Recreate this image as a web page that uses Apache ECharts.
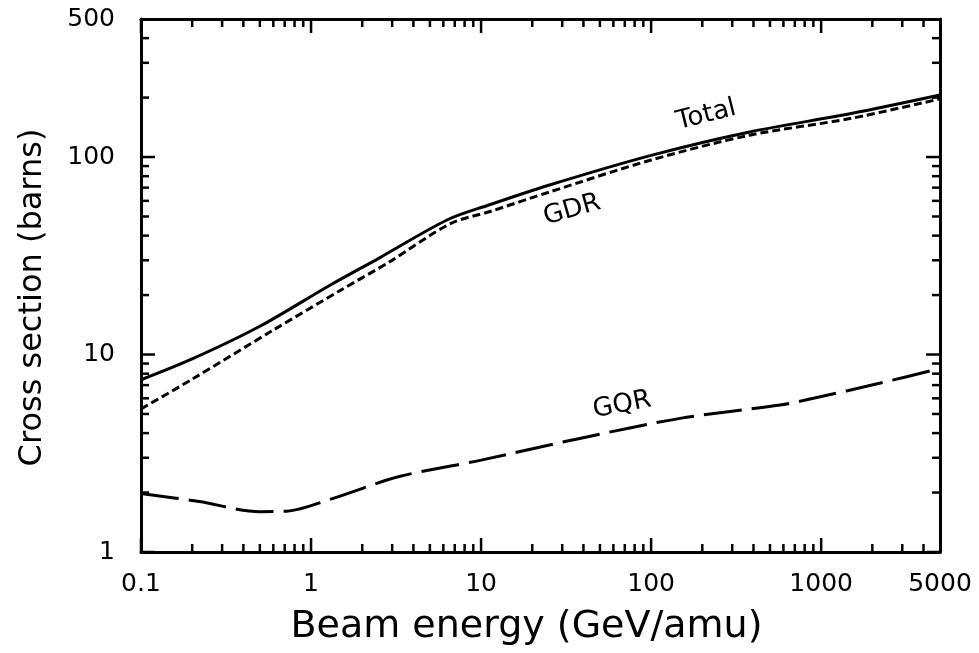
<!DOCTYPE html>
<html>
<head>
<meta charset="utf-8">
<script src="https://cdn.jsdelivr.net/npm/echarts@6/dist/echarts.min.js"></script>
<style>
  html, body { margin: 0; padding: 0; background: #fff; }
  #chart { width: 979px; height: 653px; }
</style>
</head>
<body>
<div id="chart"></div>
<script>
// tick values
const xLabels = [0.1, 1, 10, 100, 1000, 5000]
const xMajor = [0.1, 1, 10, 100, 1000]
const xMinor = [0.2, 0.3, 0.4, 0.5, 0.6, 0.7, 0.8, 0.9, 2, 3, 4, 5, 6, 7, 8, 9,
  20, 30, 40, 50, 60, 70, 80, 90, 200, 300, 400, 500, 600, 700, 800, 900, 2000, 3000, 4000]
const yLabels = [1, 10, 100, 500]
const yMajor = [1, 10, 100]
const yMinor = [2, 3, 4, 5, 6, 7, 8, 9, 20, 30, 40, 50, 60, 70, 80, 90, 200, 300, 400]

// curves (energy in GeV/amu, cross section in barns)
const totalEnergy = [0.1, 0.2, 0.5, 1.3, 2.5, 6.3, 11, 25, 100, 380, 1500, 5000]
const totalValues = [7.45, 9.5, 13.9, 22.5, 30.7, 48, 57, 72, 102, 134, 166, 206]
const gdrEnergy = [0.1, 0.2, 0.6, 1.5, 2.9, 6.6, 11.3, 25.5, 100, 380, 1500, 5000]
const gdrValues = [5.3, 7.5, 13.3, 21.2, 29.5, 46, 53, 66.7, 96.6, 129, 157, 197]
const gqrEnergy = [0.1, 0.22, 0.5, 0.72, 1.35, 3.3, 10, 38, 148, 574, 900, 2200, 5000]
const gqrValues = [1.98, 1.8, 1.6, 1.61, 1.87, 2.41, 2.92, 3.76, 4.75, 5.55, 6.0, 7.15, 8.5]

// curve captions: [text, energy, cross section, angle in degrees]
const captions = [
  ['Total', 211, 163, 14],
  ['GDR', 34.3, 53.9, 16],
  ['GQR', 67.5, 5.55, 11]
]

const pairs = (xs, ys) => xs.map((x, i) => [x, ys[i]])
const font = 'DejaVu Sans'
const X0 = 0.1, X1 = 5000, Y0 = 1, Y1 = 500

function axisBase() {
	return {
		type: 'log', logBase: 10,
		axisLine: { show: true, onZero: false, lineStyle: { color: '#000', width: 3 } },
		axisTick: { show: false },
		minorTick: { show: false },
		splitLine: { show: false }
	}
}

const chart = echarts.init(document.getElementById('chart'))
chart.setOption({
	animation: false,
	backgroundColor: '#fff',
	grid: { left: 141, right: 39, top: 19, bottom: 101, containLabel: false, outerBoundsMode: 'none' },
	xAxis: [
		{
			...axisBase(), min: X0, max: X1, position: 'bottom',
			axisLabel: {
				customValues: xLabels, margin: 20, color: '#000', fontFamily: font, fontSize: 25,
				formatter: v => String(+(+v).toPrecision(6))
			},
			name: 'Beam energy (GeV/amu)', nameLocation: 'middle', nameGap: 56,
			nameTextStyle: { color: '#000', fontFamily: font, fontSize: 38, padding: [0, 28, 0, 0] }
		},
		{ ...axisBase(), min: X0, max: X1, position: 'top', axisLabel: { show: false } }
	],
	yAxis: [
		{
			...axisBase(), min: Y0, max: Y1, position: 'left',
			axisLabel: {
				customValues: yLabels, margin: 26, color: '#000', fontFamily: font, fontSize: 25,
				formatter: v => String(+(+v).toPrecision(6))
			},
			name: 'Cross section (barns)', nameLocation: 'middle', nameGap: 92,
			nameTextStyle: { color: '#000', fontFamily: font, fontSize: 32, padding: [0, 24, 0, 0] }
		},
		{ ...axisBase(), min: Y0, max: Y1, position: 'right', axisLabel: { show: false } }
	],
	series: [
		{
			name: 'Total', type: 'line', data: pairs(totalEnergy, totalValues),
			showSymbol: false, smooth: 0.3, lineStyle: { color: '#000', width: 3 }
		},
		{
			name: 'GDR', type: 'line', data: pairs(gdrEnergy, gdrValues),
			showSymbol: false, smooth: 0.3, lineStyle: { color: '#000', width: 3, type: [8, 4] }
		},
		{
			name: 'GQR', type: 'line', data: pairs(gqrEnergy, gqrValues),
			showSymbol: false, smooth: 0.3, lineStyle: { color: '#000', width: 3, type: [38, 10] }
		}
	]
})

// 刻度线 on all four sides (pointing inward), drawn as thin filled bars, and 曲线名称
const toPx = (x, y) => chart.convertToPixel({ xAxisIndex: 0, yAxisIndex: 0 }, [x, y])
const tw = 2.5
const tickRects = []
const addX = (v, len) => {
	const b = toPx(v, Y0), t = toPx(v, Y1)
	tickRects.push({ x: b[0] - tw / 2, y: b[1] - len, width: tw, height: len })
	tickRects.push({ x: t[0] - tw / 2, y: t[1], width: tw, height: len })
}
const addY = (v, len) => {
	const l = toPx(X0, v), r = toPx(X1, v)
	tickRects.push({ x: l[0], y: l[1] - tw / 2, width: len, height: tw })
	tickRects.push({ x: r[0] - len, y: r[1] - tw / 2, width: len, height: tw })
}
xMajor.forEach(v => addX(v, 14)); xMinor.forEach(v => addX(v, 8))
yMajor.forEach(v => addY(v, 14)); yMinor.forEach(v => addY(v, 8))

chart.setOption({
	graphic: [
		...tickRects.map(shape => ({
			type: 'rect', silent: true, z: 10, shape, style: { fill: '#000' }
		})),
		...captions.map(([text, x, y, deg]) => {
			const [px, py] = toPx(x, y)
			return {
				type: 'text', x: px, y: py, rotation: deg * Math.PI / 180,
				style: { text, fill: '#000', font: `26px "${font}"`, align: 'center', verticalAlign: 'middle' }
			}
		})
	]
})
</script>
</body>
</html>
